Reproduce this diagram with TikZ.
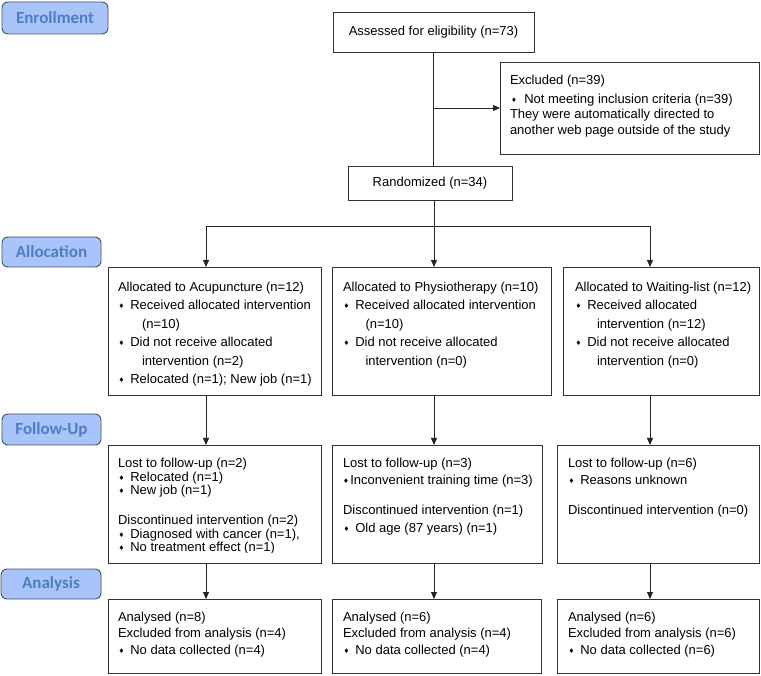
\documentclass[tikz,border=0pt]{standalone}
\usepackage{fontspec}
\setmainfont{Liberation Sans}
\newfontfamily\carl{Carlito}
\newfontfamily\djv{DejaVu Sans}
\usetikzlibrary{arrows.meta}
\definecolor{phfill}{RGB}{168,196,250}
\definecolor{phdraw}{RGB}{70,80,100}
\definecolor{phtext}{RGB}{79,126,190}
\newcommand{\dmd}{\raisebox{1pt}{\djv\fontsize{6.5}{6.5}\selectfont ♦}}
\newcommand{\itm}{\hspace*{0.5pt}\dmd\hspace{6pt}}
\begin{document}
\begin{tikzpicture}[x=1pt,y=-1pt,
  box/.style={draw=black!80, line width=0.9pt, inner sep=0pt, outer sep=0pt, anchor=north west,
    font=\fontsize{13}{15}\selectfont},
  phase/.style={draw=phdraw, fill=phfill, line width=0.9pt, rounded corners=6pt, inner sep=0pt,
    outer sep=0pt, anchor=north west, text=phtext, font=\carl\bfseries\fontsize{17}{17}\selectfont},
  txt/.style={anchor=north west, inner sep=0pt, outer sep=0pt, align=left},
  arr/.style={line width=0.9pt, draw=black!85, -{Triangle[length=7pt,width=6pt]}},
  ln/.style={line width=0.9pt, draw=black!85}]
\useasboundingbox (0,0) rectangle (761,676);
% phase labels
\node[phase, minimum width=106pt, minimum height=32pt] (enr) at (2,2) {Enrollment};
\node[phase, minimum width=99pt, minimum height=30pt] (alo) at (2,237) {Allocation};
\node[phase, minimum width=99pt, minimum height=31pt] (fol) at (2,414) {Follow-Up};
\node[phase, minimum width=100pt, minimum height=30pt] (ana) at (1,569) {Analysis};
% top boxes
\node[box, minimum width=201pt, minimum height=40pt] (ass) at (333,12) {Assessed for eligibility (n=73)};
\node[box, minimum width=259pt, minimum height=92pt] (exc) at (500,62) {};
\node[box, minimum width=164pt, minimum height=34pt] (ran) at (348,166) {Randomized (n=34)};
% allocation row
\node[box, minimum width=213pt, minimum height=128pt] (aa) at (108,267) {};
\node[box, minimum width=219pt, minimum height=128pt] (ab) at (332,267) {};
\node[box, minimum width=196pt, minimum height=128pt] (ac) at (563,267) {};
% follow-up row
\node[box, minimum width=213pt, minimum height=118pt] (fa) at (108,445) {};
\node[box, minimum width=210pt, minimum height=118pt] (fb) at (332,445) {};
\node[box, minimum width=202pt, minimum height=118pt] (fc) at (557,445) {};
% analysis row
\node[box, minimum width=213pt, minimum height=74pt] (na) at (108,599) {};
\node[box, minimum width=209pt, minimum height=74pt] (nb) at (332,599) {};
\node[box, minimum width=202pt, minimum height=74pt] (nc) at (557,599) {};
% texts
\node[txt, font=\fontsize{13}{15.5}\selectfont] (texc) at (510,75) {Excluded (n=39)\\[3.5pt]
\hspace*{1pt}\dmd\hspace{7.5pt}Not meeting inclusion criteria (n=39)\\
They were automatically directed to\\
another web page outside of the study};
\node[txt, font=\fontsize{13}{18.5}\selectfont] (taa) at (118,282) {Allocated to Acupuncture (n=12)\\
\itm Received allocated intervention\\
\hspace*{24pt}(n=10)\\
\itm Did not receive allocated\\
\hspace*{24pt}intervention (n=2)\\
\itm Relocated (n=1); New job (n=1)};
\node[txt, font=\fontsize{13}{18.5}\selectfont] (tab) at (343,282) {Allocated to Physiotherapy (n=10)\\
\itm Received allocated intervention\\
\hspace*{22.5pt}(n=10)\\
\itm Did not receive allocated\\
\hspace*{22.5pt}intervention (n=0)};
\node[txt, font=\fontsize{13}{18.5}\selectfont] (tac) at (575,282) {Allocated to Waiting-list (n=12)\\
\itm Received allocated\\
\hspace*{22pt}intervention (n=12)\\
\itm Did not receive allocated\\
\hspace*{22pt}intervention (n=0)};
\begin{scope}
\clip (108,445) rectangle (321,552);
\node[txt, font=\fontsize{13}{13.6}\selectfont] (tfa) at (118,458) {Lost to follow-up (n=2)\\
\itm Relocated (n=1)\\
\itm New job (n=1)\\[16.4pt]
Discontinued intervention (n=2)\\
\itm Diagnosed with cancer (n=1),\\
\itm No treatment effect (n=1)};
\end{scope}
\node[txt, font=\fontsize{13}{17.5}\selectfont] (tfb) at (343,458) {Lost to follow-up (n=3)\\
\dmd\hspace{1.5pt}Inconvenient training time (n=3)\\[12.5pt]
Discontinued intervention (n=1)\\
\itm Old age (87 years) (n=1)};
\node[txt, font=\fontsize{13}{17.5}\selectfont] (tfc) at (568,458) {Lost to follow-up (n=6)\\
\itm Reasons unknown\\[12.5pt]
Discontinued intervention (n=0)};
\node[txt, font=\fontsize{13}{16.5}\selectfont] (tna) at (118,612) {Analysed (n=8)\\
Excluded from analysis (n=4)\\
\itm No data collected (n=4)};
\node[txt, font=\fontsize{13}{16.5}\selectfont] (tnb) at (343,612) {Analysed (n=6)\\
Excluded from analysis (n=4)\\
\itm No data collected (n=4)};
\node[txt, font=\fontsize{13}{16.5}\selectfont] (tnc) at (568,612) {Analysed (n=6)\\
Excluded from analysis (n=6)\\
\itm No data collected (n=6)};
% connectors
\coordinate (bj) at (ass.south |- exc.west);
\draw[ln] (ass.south) -- (ass.south |- ran.north);
\draw[arr] (bj) -- (exc.west);
\coordinate (ja) at (206,226);
\coordinate (jb) at (434,226);
\coordinate (jc) at (650,226);
\draw[ln] (jb |- ran.south) -- (jb);
\draw[ln] (ja) -- (jc);
\draw[arr] (ja) -- (ja |- aa.north);
\draw[arr] (jb) -- (jb |- ab.north);
\draw[arr] (jc) -- (jc |- ac.north);
\draw[arr] (ja |- aa.south) -- (ja |- fa.north);
\draw[arr] (jb |- ab.south) -- (jb |- fb.north);
\draw[arr] (jc |- ac.south) -- (jc |- fc.north);
\draw[arr] (ja |- fa.south) -- (ja |- na.north);
\draw[arr] (jb |- fb.south) -- (jb |- nb.north);
\draw[arr] (jc |- fc.south) -- (jc |- nc.north);
\end{tikzpicture}
\end{document}
